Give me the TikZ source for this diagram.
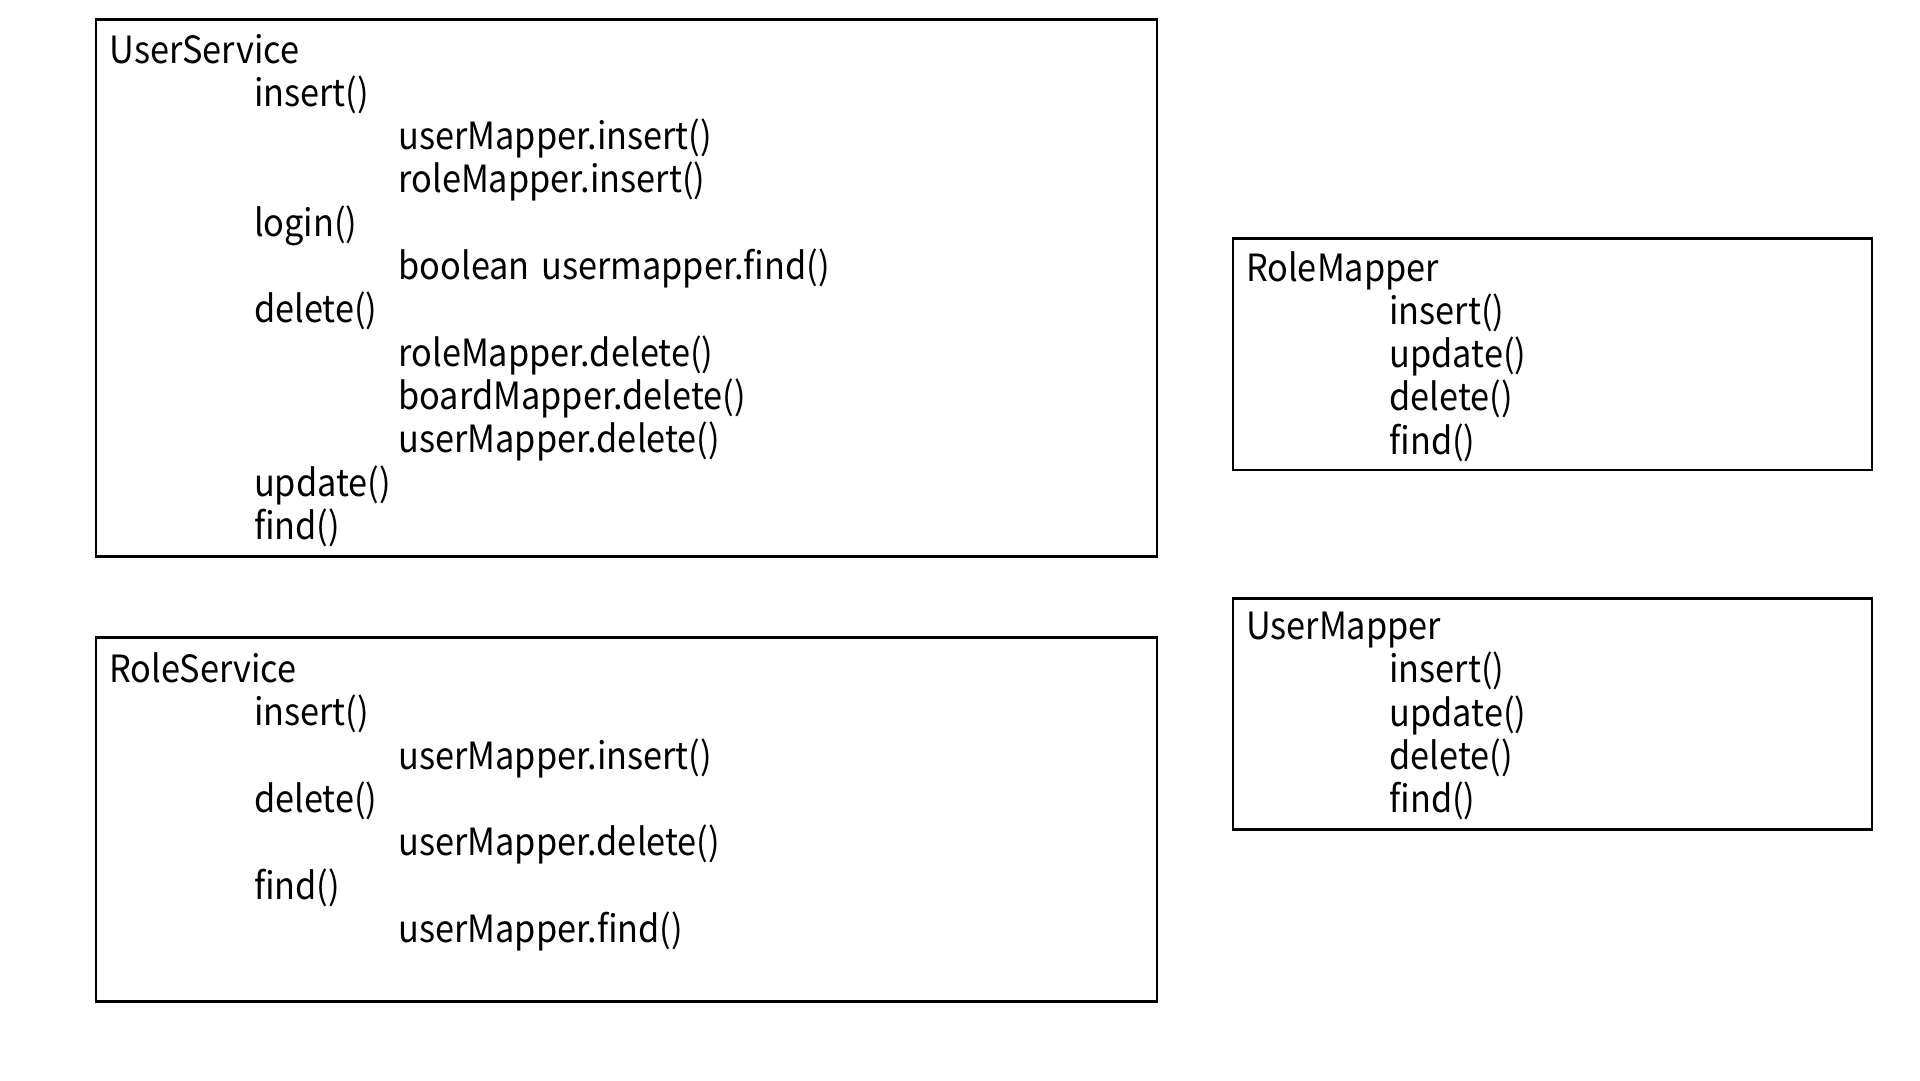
\documentclass[tikz,border=0pt]{standalone}
\usepackage{fontspec}
\newfontfamily\krfont[FakeStretch=0.915]{Noto Sans CJK KR}
\begin{document}
\begin{tikzpicture}[x=1pt,y=-1pt,
  boxsty/.style={draw=black,line width=2.6pt,fill=none},
  txt/.style={anchor=base west,inner sep=0pt,outer sep=0pt,font=\krfont\fontsize{37.5}{45}\selectfont,text=black}]
\useasboundingbox[fill=white] (0,0) rectangle (1920,1080);
% boxes
\draw[boxsty] (96,19.5) rectangle (1157,556.5);
\draw[boxsty] (96,637.5) rectangle (1157,1001.5);
\draw[boxsty] (1233,238.5) rectangle (1872,470);
\draw[boxsty] (1233,598.5) rectangle (1872,829.5);
\coordinate (userservice) at (96,19.5);
\coordinate (roleservice) at (96,637.5);
\coordinate (rolemapper) at (1233,238.5);
\coordinate (usermapper) at (1233,598.5);
% UserService
\foreach \i/\lv/\t in {0/0/UserService,1/1/insert(),2/2/userMapper.insert(),3/2/roleMapper.insert(),4/1/login(),5/2/{boolean\hspace{4pt} usermapper.find()},6/1/delete(),7/2/roleMapper.delete(),8/2/boardMapper.delete(),9/2/userMapper.delete(),10/1/update(),11/1/find()}{
  \node[txt] (us\i) at ({109.5+144.5*\lv},{63+43.3*\i}) {\t};
}
% RoleService
\foreach \i/\lv/\t in {0/0/RoleService,1/1/insert(),2/2/userMapper.insert(),3/1/delete(),4/2/userMapper.delete(),5/1/find(),6/2/userMapper.find()}{
  \node[txt] (rs\i) at ({109.5+144.5*\lv},{682.5+43.3*\i}) {\t};
}
% RoleMapper
\foreach \i/\lv/\t in {0/0/RoleMapper,1/1/insert(),2/1/update(),3/1/delete(),4/1/find()}{
  \node[txt] (rm\i) at ({1246+143.5*\lv},{281+43.3*\i}) {\t};
}
% UserMapper
\foreach \i/\lv/\t in {0/0/UserMapper,1/1/insert(),2/1/update(),3/1/delete(),4/1/find()}{
  \node[txt] (um\i) at ({1246+143.5*\lv},{639.5+43.3*\i}) {\t};
}
\end{tikzpicture}
\end{document}
